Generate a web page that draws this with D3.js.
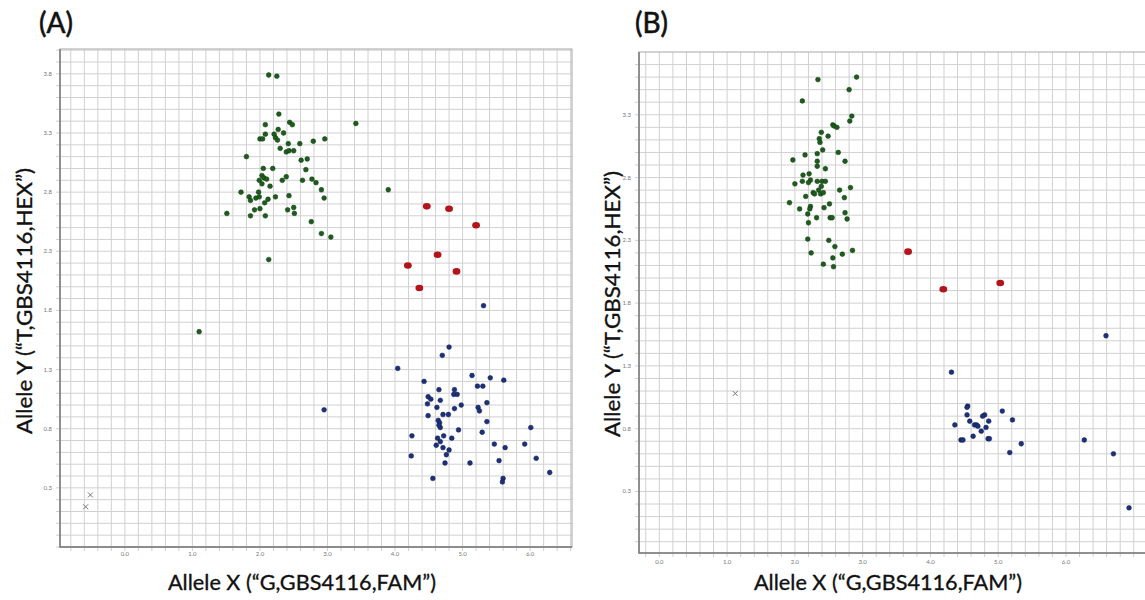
<!DOCTYPE html>
<html>
<head>
<meta charset="utf-8">
<script src="https://cdn.jsdelivr.net/npm/d3@7"></script>
<style>
  body { margin: 0; background: #fff; }
  text { font-family: Lato, "Open Sans", sans-serif; }
</style>
</head>
<body>
<script>
// cluster plot values: [allele X, allele Y]
const aGreen = [[2.13,3.79],[2.25,3.78],[2.28,3.46],[2.44,3.39],[2.48,3.37],[3.42,3.38],[2.08,3.37],[2.27,3.33],[2.35,3.30],[2.08,3.29],[2.21,3.29],[2.23,3.26],[2.00,3.25],[2.04,3.25],[2.26,3.24],[2.79,3.23],[2.96,3.25],[2.42,3.21],[2.59,3.21],[2.30,3.17],[2.39,3.14],[2.43,3.15],[2.50,3.15],[1.80,3.10],[2.70,3.08],[2.61,3.07],[2.05,3.00],[2.19,3.00],[2.68,2.99],[2.39,2.93],[2.03,2.94],[2.06,2.92],[1.99,2.90],[2.10,2.91],[2.33,2.90],[2.63,2.90],[2.77,2.91],[2.83,2.88],[2.03,2.87],[2.15,2.85],[2.91,2.82],[1.72,2.80],[1.98,2.80],[3.90,2.82],[1.84,2.76],[1.94,2.75],[1.99,2.76],[2.23,2.76],[2.43,2.77],[2.95,2.75],[1.86,2.73],[2.07,2.71],[2.12,2.74],[2.50,2.67],[2.41,2.65],[2.00,2.66],[1.92,2.65],[1.51,2.62],[1.86,2.60],[2.08,2.60],[2.51,2.62],[2.76,2.55],[2.91,2.45],[3.05,2.42],[2.13,2.23],[1.10,1.62]];
const aRed = [[4.47,2.68],[4.80,2.66],[5.20,2.52],[4.63,2.27],[4.19,2.18],[4.91,2.13],[4.36,1.99]];
const aBlue = [[5.31,1.84],[4.80,1.49],[4.70,1.42],[4.04,1.31],[5.14,1.25],[5.41,1.23],[5.61,1.21],[4.43,1.20],[5.22,1.16],[5.30,1.16],[4.65,1.13],[4.88,1.13],[4.87,1.09],[4.92,1.09],[4.49,1.07],[4.53,1.05],[4.67,1.04],[4.48,1.01],[4.98,1.00],[5.36,1.02],[4.62,0.98],[5.23,0.98],[5.25,0.95],[4.88,0.97],[4.71,0.92],[4.79,0.92],[4.49,0.91],[4.64,0.87],[4.66,0.85],[4.67,0.81],[4.65,0.83],[5.36,0.86],[4.94,0.79],[6.01,0.81],[5.29,0.77],[4.25,0.74],[4.72,0.74],[4.63,0.72],[4.84,0.72],[4.67,0.69],[4.61,0.66],[5.47,0.67],[5.63,0.64],[5.92,0.67],[4.71,0.64],[4.80,0.62],[4.76,0.58],[4.24,0.57],[6.09,0.55],[5.54,0.53],[4.74,0.51],[5.11,0.51],[6.29,0.43],[4.56,0.38],[5.60,0.38],[5.59,0.35],[2.95,0.96]];
const aNoCall = [[-0.51,0.24],[-0.58,0.14]];

const bGreen = [[2.34,3.58],[2.91,3.60],[2.80,3.50],[2.11,3.41],[2.84,3.29],[2.81,3.25],[2.56,3.22],[2.58,3.21],[2.62,3.20],[2.39,3.16],[2.49,3.13],[2.36,3.11],[2.37,3.08],[2.41,3.02],[2.64,3.00],[2.33,2.99],[2.15,2.98],[1.97,2.94],[2.74,2.93],[2.33,2.93],[2.33,2.89],[2.45,2.87],[2.21,2.83],[2.12,2.82],[2.11,2.77],[2.23,2.78],[2.20,2.76],[2.33,2.77],[2.40,2.77],[2.45,2.77],[2.00,2.75],[2.39,2.73],[2.82,2.72],[2.66,2.70],[2.35,2.70],[2.27,2.68],[2.29,2.67],[2.38,2.67],[2.42,2.68],[2.16,2.65],[2.73,2.64],[1.92,2.60],[2.51,2.59],[2.23,2.57],[2.43,2.56],[2.07,2.55],[2.22,2.55],[2.74,2.52],[2.19,2.51],[2.32,2.48],[2.52,2.48],[2.55,2.48],[2.77,2.47],[2.20,2.44],[2.19,2.31],[2.50,2.30],[2.59,2.25],[2.85,2.22],[2.24,2.20],[2.70,2.19],[2.56,2.16],[2.42,2.11],[2.57,2.09]];
const bRed = [[3.67,2.21],[4.19,1.91],[5.03,1.96]];
const bBlue = [[4.31,1.25],[6.59,1.54],[4.55,0.98],[4.54,0.97],[5.06,0.94],[4.54,0.91],[4.80,0.91],[4.77,0.90],[4.58,0.86],[4.86,0.86],[5.21,0.87],[4.36,0.83],[4.65,0.83],[4.68,0.83],[4.70,0.82],[4.82,0.81],[4.75,0.78],[4.63,0.74],[4.45,0.71],[4.48,0.71],[4.85,0.72],[4.87,0.72],[5.34,0.68],[5.17,0.61],[6.27,0.71],[6.70,0.60],[6.93,0.17]];
const bNoCall = [[1.12,1.08]];

const xTickLabels = [0, 1, 2, 3, 4, 5, 6];
const aYTickLabels = [0.3, 0.8, 1.3, 1.8, 2.3, 2.8, 3.3, 3.8];
const bYTickLabels = [0.3, 0.8, 1.3, 1.8, 2.3, 2.8, 3.3];

const xTitle = "Allele X (\u201CG,GBS4116,FAM\u201D)";
const yTitle = "Allele Y (\u201CT,GBS4116,HEX\u201D)";

const width = 1145;
const height = 600;

const svg = d3.select("body")
    .append("svg")
    .attr("width", width)
    .attr("height", height);

function drawPanel(p) {
    const x = d3.scaleLinear().domain(p.xDomain).range([p.left, p.right]);
    const y = d3.scaleLinear().domain(p.yDomain).range([p.bottom, p.top]);
    const g = svg.append("g");

    // fine grid: 0.2 in X, 0.1 in Y
    const xs = d3.range(Math.ceil(p.xDomain[0] / 0.2), Math.floor(p.xDomain[1] / 0.2) + 1).map(i => i * 0.2);
    const ys = d3.range(Math.ceil(p.yDomain[0] / 0.1), Math.floor(p.yDomain[1] / 0.1) + 1).map(i => i * 0.1);

    g.selectAll(".vg").data(xs).enter().append("line")
        .attr("x1", d => x(d)).attr("x2", d => x(d))
        .attr("y1", p.top).attr("y2", p.bottom + 4)
        .attr("stroke", "#d0d0d0").attr("stroke-width", 1);

    g.selectAll(".hg").data(ys).enter().append("line")
        .attr("y1", d => y(d)).attr("y2", d => y(d))
        .attr("x1", p.left - 4).attr("x2", p.right)
        .attr("stroke", "#d0d0d0").attr("stroke-width", 1);

    // frame
    g.append("rect")
        .attr("x", p.left).attr("y", p.top)
        .attr("width", p.right - p.left).attr("height", p.bottom - p.top)
        .attr("fill", "none").attr("stroke", "#a8a8a8").attr("stroke-width", 1);
    g.append("path")
        .attr("d", `M${p.left},${p.top}V${p.bottom}H${p.right}`)
        .attr("fill", "none").attr("stroke", "#7a7a7a").attr("stroke-width", 1.5);

    // tick labels
    g.selectAll(".xl").data(xTickLabels).enter().append("text")
        .attr("x", d => x(d)).attr("y", p.bottom + p.xLabelGap)
        .attr("text-anchor", "middle")
        .attr("font-size", 6).attr("fill", "#777")
        .text(d => d3.format(".1f")(d));

    g.selectAll(".yl").data(p.yTicks).enter().append("text")
        .attr("x", p.left - 8).attr("y", d => y(d) + 2)
        .attr("text-anchor", "end")
        .attr("font-size", 6).attr("fill", "#777")
        .text(d => d3.format(".1f")(d));

    // titles
    g.append("text")
        .attr("x", p.titleX).attr("y", 33)
        .attr("font-size", 28).attr("fill", "#111")
        .attr("stroke", "#111").attr("stroke-width", 0.6)
        .text(p.title);

    g.append("text")
        .attr("x", p.xTitleX).attr("y", 590)
        .attr("text-anchor", "middle")
        .attr("font-size", 22).attr("fill", "#111")
        .attr("stroke", "#111").attr("stroke-width", 0.35)
        .attr("textLength", 268).attr("lengthAdjust", "spacingAndGlyphs")
        .text(xTitle);

    g.append("text")
        .attr("transform", `translate(${p.yTitleX},${p.yTitleY}) rotate(-90)`)
        .attr("text-anchor", "middle")
        .attr("font-size", 22).attr("fill", "#111")
        .attr("stroke", "#111").attr("stroke-width", 0.35)
        .attr("textLength", 266).attr("lengthAdjust", "spacingAndGlyphs")
        .text(yTitle);

    // points
    g.selectAll(".green").data(p.green).enter().append("circle")
        .attr("cx", d => x(d[0])).attr("cy", d => y(d[1]))
        .attr("r", 2.4).attr("fill", "#1e5c1e").attr("stroke", "#0f3a0f").attr("stroke-width", 0.5);

    g.selectAll(".blue").data(p.blue).enter().append("circle")
        .attr("cx", d => x(d[0])).attr("cy", d => y(d[1]))
        .attr("r", 2.4).attr("fill", "#1c3178").attr("stroke", "#101f55").attr("stroke-width", 0.5);

    g.selectAll(".red").data(p.red).enter().append("ellipse")
        .attr("cx", d => x(d[0])).attr("cy", d => y(d[1]))
        .attr("rx", 3.9).attr("ry", 3.3).attr("fill", "#b3141b");

    g.selectAll(".nc").data(p.noCall).enter().append("path")
        .attr("transform", d => `translate(${x(d[0])},${y(d[1])})`)
        .attr("d", "M-2.5,-2.5L2.5,2.5M-2.5,2.5L2.5,-2.5")
        .attr("stroke", "#777").attr("stroke-width", 1);
}

drawPanel({
    left: 60, right: 572, top: 49, bottom: 547,
    xDomain: [-0.96, 6.62], yDomain: [-0.2, 4.01],
    yTicks: aYTickLabels, xLabelGap: 9,
    title: "(A)", titleX: 39,
    xTitleX: 302, yTitleX: 32, yTitleY: 301,
    green: aGreen, red: aRed, blue: aBlue, noCall: aNoCall
});

drawPanel({
    left: 639, right: 1148, top: 52, bottom: 553,
    xDomain: [-0.3, 7.21], yDomain: [-0.19, 3.8],
    yTicks: bYTickLabels, xLabelGap: 11,
    title: "(B)", titleX: 635,
    xTitleX: 888, yTitleX: 620, yTitleY: 304,
    green: bGreen, red: bRed, blue: bBlue, noCall: bNoCall
});
</script>
</body>
</html>
